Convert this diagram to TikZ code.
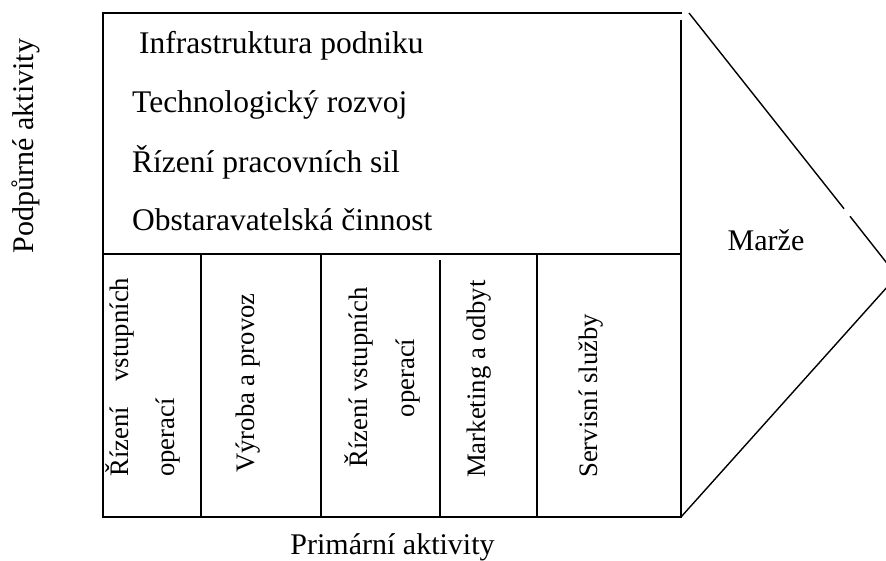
\documentclass[tikz,border=0pt]{standalone}
\usepackage{fontspec}
\setmainfont{Liberation Serif}
\begin{document}
\begin{tikzpicture}[x=1pt,y=-1pt,
  frame/.style={line width=2pt, line join=miter},
  rule/.style={line width=2pt},
  slant/.style={line width=1.4pt},
  body/.style={inner sep=0pt, anchor=base west, font=\fontsize{31.5}{36}\selectfont},
  side/.style={inner sep=0pt, anchor=base, font=\fontsize{30}{34}\selectfont},
  col/.style={inner sep=0pt, anchor=base west, rotate=90, font=\fontsize{26.7}{30}\selectfont},
]
\useasboundingbox (0,0) rectangle (886,560);
\clip (0,0) rectangle (886,560);

% corners of the value chain block
\coordinate (tl) at (103,13);
\coordinate (tre) at (682,13);
\coordinate (bl) at (103,517);
\coordinate (br) at (681,517);
\coordinate (rtop) at (681,20);
\coordinate (ml) at (103,254);
\coordinate (mr) at (681,254);

% column dividers of the primary activities
\coordinate (c1t) at (201,254); \coordinate (c1b) at (201,517);
\coordinate (c2t) at (321,254); \coordinate (c2b) at (321,517);
\coordinate (c3t) at (440,260); \coordinate (c3b) at (440,517);
\coordinate (c4t) at (537,254); \coordinate (c4b) at (537,517);

% margin arrow head
\coordinate (ds) at (689,13);
\coordinate (g1) at (844,208.7);
\coordinate (g2) at (850,216.3);
\coordinate (tip) at (897,276);

\draw[frame] (tre) -- (tl) -- (bl) -- (br) -- (rtop);
\draw[rule] (ml) -- (mr);
\draw[rule] (c1t) -- (c1b);
\draw[rule] (c2t) -- (c2b);
\draw[rule] (c3t) -- (c3b);
\draw[rule] (c4t) -- (c4b);

\draw[slant] (ds) -- (g1);
\draw[slant] (g2) -- (tip);
\draw[slant] (br) -- (tip);

% support activities
\node[body] (infra) at (139,53) {Infrastruktura podniku};
\node[body] (tech) at (132,112) {Technologický rozvoj};
\node[body] (hr) at (132,172) {Řízení pracovních sil};
\node[body] (proc) at (132,230) {Obstaravatelská činnost};

% primary activities
\node[col] (inA) at (128,477) {\hbox to 199pt{Řízení\hfill vstupních}};
\node[col] (inB) at (174,477) {operací};
\node[col] (ops) at (254,473) {Výroba a provoz};
\node[col] (outA) at (367,468) {Řízení vstupních};
\node[col, anchor=base] (outB) at (414,378) {operací};
\node[col] (mkt) at (485,478) {Marketing a odbyt};
\node[col] (srv) at (597,478) {Servisní služby};

% labels
\node[side] (margin) at (766,250) {Marže};
\node[side, rotate=90] (support) at (33,146) {Podpůrné aktivity};
\node[side] (primary) at (392.5,554) {Primární aktivity};
\end{tikzpicture}
\end{document}
